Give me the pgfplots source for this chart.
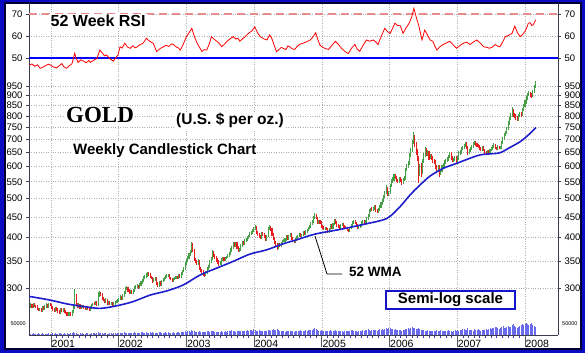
\documentclass[border=0pt]{standalone}
\usepackage{pgfplots}
\pgfplotsset{compat=1.18}
\usepackage{pgfplotstable}
\usepackage{fontspec}
\setmainfont{Liberation Sans}
\newfontfamily\goldfont{Liberation Serif}
\definecolor{framecol}{RGB}{10,10,195}
\definecolor{cgreen}{RGB}{70,160,70}
\definecolor{cred}{RGB}{230,30,30}
\definecolor{wmacol}{RGB}{30,30,205}
\definecolor{volblue}{RGB}{105,105,235}
\definecolor{gridg}{RGB}{175,175,175}
\definecolor{axiscol}{RGB}{60,60,80}
\definecolor{tickblue}{RGB}{60,60,170}
\definecolor{rsipink}{RGB}{230,140,140}
\definecolor{boxblue}{RGB}{20,20,200}
\definecolor{fiftyblue}{RGB}{0,0,255}

\pgfplotstableread[row sep=\\]{
lo hi d v\\
267 275 1 6\\ 268 274 0 5\\ 268 275 1 7\\ 269 275 0 4\\ 268 273 0 6\\ 264 272 0 5\\ 263 268 0 8\\ 263 268 1 6\\
262 268 0 5\\ 262 270 1 7\\ 264 270 0 6\\ 264 272 1 4\\ 268 275 1 5\\ 268 274 0 6\\ 268 275 1 7\\ 270 275 0 5\\
266 274 0 6\\ 263 270 0 7\\ 262 267 0 5\\ 262 269 1 8\\ 263 269 0 6\\ 260 267 0 5\\ 258 264 0 7\\ 258 268 1 9\\
261 268 0 6\\ 261 268 1 5\\ 260 268 0 8\\ 258 264 0 6\\ 255 262 0 7\\ 255 261 1 5\\ 256 262 1 6\\ 255 261 0 8\\
255 264 1 7\\ 260 272 1 12\\ 266 298 1 10\\ 270 290 0 7\\ 267 275 0 6\\ 268 275 1 5\\ 266 274 0 8\\ 266 272 1 6\\
268 273 1 7\\ 266 273 0 5\\ 265 270 0 6\\ 265 270 1 7\\ 264 270 0 8\\ 263 268 0 6\\ 263 270 1 5\\ 266 274 1 7\\
270 276 1 9\\ 272 277 0 8\\ 272 278 1 6\\ 270 278 0 7\\ 270 293 1 14\\ 285 295 1 11\\ 286 294 0 8\\ 280 292 0 7\\
278 285 0 6\\ 275 282 0 8\\ 276 283 1 7\\ 273 282 0 5\\ 273 279 1 6\\ 272 279 0 7\\ 272 277 1 8\\ 271 277 0 6\\
271 277 1 9\\ 273 279 1 7\\ 275 280 1 6\\ 276 281 1 8\\
277 284 1 8\\ 280 288 1 9\\ 280 287 0 7\\ 280 290 1 10\\ 285 295 1 12\\ 290 302 1 9\\ 296 304 1 8\\ 294 302 0 11\\
290 298 0 9\\ 290 297 1 8\\ 290 296 0 10\\ 290 298 1 9\\ 293 303 1 12\\ 298 305 1 8\\ 300 307 1 9\\ 299 306 0 11\\
300 309 1 10\\ 304 313 1 12\\ 307 315 1 13\\ 310 321 1 11\\ 315 323 1 10\\ 317 326 1 12\\ 319 329 1 9\\ 321 328 0 11\\
317 326 0 14\\ 315 322 0 10\\ 309 320 0 12\\ 310 318 1 9\\ 313 320 1 11\\ 305 320 0 10\\ 301 310 0 9\\ 302 312 1 13\\
303 312 0 12\\ 304 314 1 10\\ 310 317 1 11\\ 312 320 1 9\\ 316 323 1 12\\ 318 325 1 10\\ 319 325 1 14\\ 316 324 0 11\\
314 320 0 10\\ 310 318 0 9\\ 310 318 1 12\\ 314 320 1 11\\ 316 322 1 10\\ 316 322 0 13\\ 316 324 1 12\\ 318 324 0 11\\
318 328 1 14\\ 323 333 1 15\\ 328 338 1 13\\ 333 348 1 16\\
342 354 1 14\\ 348 360 1 16\\ 353 366 1 18\\ 360 372 1 15\\ 366 389 1 22\\ 368 388 0 20\\ 349 375 0 16\\ 345 356 0 14\\
342 352 0 13\\ 342 354 1 15\\ 332 352 0 17\\ 328 338 0 14\\ 326 335 0 12\\ 322 333 0 13\\ 320 329 0 15\\ 321 331 1 14\\
325 339 1 16\\ 333 343 1 18\\ 337 351 1 15\\ 345 357 1 17\\ 351 372 1 20\\ 358 370 0 16\\ 354 365 0 14\\ 348 361 0 13\\
344 355 0 15\\ 341 351 0 12\\ 342 349 1 14\\ 343 355 1 16\\ 349 359 1 15\\ 349 359 0 13\\ 349 359 1 17\\ 353 361 1 15\\
355 365 1 18\\ 359 369 1 16\\ 363 376 1 20\\ 369 382 1 22\\ 375 390 1 18\\ 379 390 0 16\\ 379 390 1 15\\ 375 389 0 19\\
368 381 0 17\\ 369 377 1 16\\ 371 385 1 18\\ 379 392 1 20\\ 383 392 0 17\\ 383 397 1 19\\ 391 400 1 18\\ 393 403 1 21\\
397 407 1 19\\ 401 413 1 22\\ 407 416 1 24\\ 409 419 1 20\\
413 424 1 28\\ 417 430 1 24\\ 408 428 0 20\\ 404 415 0 18\\ 400 411 0 22\\ 396 407 0 19\\ 397 413 1 17\\ 404 413 0 20\\
400 411 0 18\\ 392 407 0 16\\ 393 407 1 19\\ 401 424 1 22\\ 417 430 1 25\\ 416 428 0 20\\ 404 423 0 23\\ 394 411 0 26\\
386 401 0 24\\ 380 393 0 21\\ 372 387 0 28\\ 375 387 1 24\\ 378 387 0 19\\ 379 391 1 17\\ 385 395 1 18\\ 389 397 1 16\\
391 399 1 15\\ 393 405 1 17\\ 395 405 0 19\\ 395 407 1 16\\ 401 411 1 18\\ 395 411 0 20\\ 389 401 0 17\\ 387 395 0 15\\
387 399 1 16\\ 393 403 1 18\\ 397 407 1 17\\ 401 411 1 19\\ 401 411 0 21\\ 401 409 1 18\\ 403 415 1 16\\ 405 415 0 20\\
405 417 1 22\\ 411 421 1 19\\ 415 425 1 21\\ 419 429 1 23\\ 423 436 1 25\\ 429 442 1 24\\ 435 452 1 27\\ 445 459 1 30\\
444 458 0 26\\ 432 451 0 22\\ 433 443 1 20\\ 433 443 0 18\\
422 439 0 22\\ 421 429 0 20\\ 417 427 0 18\\ 417 425 1 17\\ 417 425 0 19\\ 411 423 0 16\\ 411 423 1 18\\ 417 431 1 21\\
421 431 0 19\\ 421 435 1 17\\ 429 444 1 20\\ 433 444 0 22\\ 425 439 0 18\\ 423 431 0 16\\ 421 429 0 17\\ 421 433 1 19\\
427 435 1 18\\ 423 435 0 15\\ 421 429 0 17\\ 419 427 0 20\\ 415 425 0 18\\ 413 421 0 16\\ 413 425 1 19\\ 419 431 1 21\\
425 439 1 24\\ 433 442 1 20\\ 431 442 0 18\\ 425 437 0 17\\ 421 431 0 15\\ 421 429 1 16\\ 423 431 1 18\\ 425 439 1 20\\
433 443 1 22\\ 433 443 0 19\\ 433 441 1 21\\ 435 449 1 24\\ 443 458 1 26\\ 451 470 1 22\\ 462 474 1 20\\ 466 475 0 21\\
466 476 1 23\\ 468 482 1 25\\ 464 481 0 22\\ 460 471 0 20\\ 460 474 1 24\\ 466 482 1 26\\ 474 490 1 23\\ 482 498 1 28\\
490 510 1 25\\ 502 521 1 27\\ 512 540 1 30\\ 506 534 0 26\\
508 523 1 30\\ 514 543 1 34\\ 534 558 1 28\\ 547 564 1 26\\ 553 576 1 24\\ 558 574 0 27\\ 550 568 0 22\\ 546 560 0 25\\
547 565 1 23\\ 550 565 0 21\\ 541 560 0 20\\ 543 563 1 24\\ 553 568 1 22\\ 557 596 1 26\\ 584 607 1 28\\ 594 620 1 30\\
606 648 1 27\\ 632 668 1 32\\ 652 700 1 35\\ 682 730 1 33\\ 670 718 0 30\\ 642 690 0 28\\ 618 662 0 26\\ 545 638 0 32\\
570 610 1 27\\ 565 612 0 24\\ 575 628 1 22\\ 612 648 1 25\\ 632 670 1 20\\ 638 666 0 19\\ 636 658 1 21\\ 624 656 0 18\\
626 646 1 17\\ 622 646 0 19\\ 612 636 0 16\\ 608 626 0 18\\ 592 622 0 20\\ 585 606 0 22\\ 588 604 1 17\\ 565 604 0 19\\
572 592 1 21\\ 580 604 1 16\\ 592 612 1 18\\ 600 622 1 20\\ 610 626 1 17\\ 614 632 1 19\\ 620 642 1 22\\ 630 652 1 18\\
624 650 0 17\\ 614 636 0 15\\ 616 630 1 19\\ 619 638 1 21\\
608 638 0 20\\ 614 636 1 22\\ 624 654 1 19\\ 642 658 1 24\\ 646 670 1 21\\ 658 674 1 26\\ 662 684 1 28\\ 672 692 1 23\\
662 690 0 25\\ 640 674 0 30\\ 644 662 1 24\\ 650 670 1 21\\ 658 678 1 23\\ 666 690 1 20\\ 678 696 1 26\\ 674 694 0 24\\
672 686 0 22\\ 668 684 0 27\\ 658 678 0 21\\ 656 670 0 19\\ 656 675 1 25\\ 654 674 0 23\\ 646 664 0 22\\ 642 656 0 26\\
642 660 1 24\\ 644 660 0 28\\ 644 664 1 30\\ 654 669 1 26\\ 658 677 1 32\\ 666 685 1 34\\ 662 684 0 38\\ 658 672 0 35\\
659 677 1 30\\ 662 676 0 28\\ 662 675 1 33\\ 664 695 1 36\\ 684 712 1 40\\ 700 726 1 34\\ 714 736 1 31\\ 724 752 1 37\\
738 778 1 42\\ 762 798 1 38\\ 782 815 1 36\\ 798 845 1 44\\ 795 832 0 48\\ 790 815 0 40\\ 784 808 0 35\\ 778 800 0 33\\
780 808 1 38\\ 794 820 1 42\\ 798 818 0 46\\ 800 838 1 50\\ 822 858 1 45\\ 842 875 1 52\\ 858 895 1 56\\ 878 915 1 48\\
896 922 1 44\\ 892 920 0 50\\ 886 912 0 54\\ 890 930 1 46\\ 914 955 1 42\\ 938 975 1 38\\
}\gold

% build the weekly high-low segments of up (green) and down (red) weeks from the table
\gdef\gcoords{}
\gdef\rcoords{}
\pgfplotstablegetrowsof{\gold}
\pgfmathtruncatemacro\lastrow{\pgfplotsretval-1}
\pgfplotsforeachungrouped \k in {0,...,\lastrow}{%
  \pgfplotstablegetelem{\k}{lo}\of{\gold}\let\clow\pgfplotsretval
  \pgfplotstablegetelem{\k}{hi}\of{\gold}\let\chigh\pgfplotsretval
  \pgfplotstablegetelem{\k}{d}\of{\gold}\let\cdir\pgfplotsretval
  \pgfmathsetmacro\cx{\k/52.18+2000.70}%
  \ifnum\cdir=1
    \xdef\gcoords{\gcoords(\cx,\clow)(\cx,\chigh)(\cx,nan)}%
  \else
    \xdef\rcoords{\rcoords(\cx,\clow)(\cx,\chigh)(\cx,nan)}%
  \fi
}

\pgfplotsset{
 panel/.style={scale only axis, width=529pt, xmin=2000.675, xmax=2008.489, anchor=south west,
   separate axis lines,
   axis line style={draw=axiscol, line width=0.8pt},
   tick style={draw=axiscol, line width=0.6pt},
   major tick length=3pt, tick align=outside,
   yticklabel style={font=\fontsize{9.5}{9.5}\selectfont, text=black},
   /pgf/number format/assume math mode=true,
   xtick={2001,2002,2003,2004,2005,2006,2007,2008}, xticklabels={},
   x axis line style={draw=none}, xtick style={draw=none},
   grid style={gridg, dotted, line width=0.6pt},
 },
}

\begin{document}
\begin{tikzpicture}
\fill[framecol] (0pt,0pt) rectangle (585pt,353pt);
\fill[white] (5pt,4pt) rectangle (581pt,350pt);
\draw[black!80!blue, line width=1.2pt] (5pt,4pt) rectangle (581pt,350pt);

% RSI panel, left
\begin{axis}[panel, at={(29pt,274pt)}, height=76pt, ymin=40.45, ymax=75,
  axis y line*=left, ytick={50,60,70}, yticklabels={50,60,70},
  xmajorgrids, ymajorgrids]
\addplot[rsipink, line width=1.1pt, dash pattern=on 8pt off 5pt] coordinates {(2000.675,70) (2008.489,70)};
\addplot[draw=fiftyblue, line width=1.2pt] coordinates {(2000.675,50) (2008.489,50)};
\addplot[red, line width=0.8pt] coordinates {
(2000.68,46.8)(2000.72,47.3)(2000.76,46.2)(2000.80,46.9)(2000.84,45.3)(2000.88,45.8)(2000.92,46.5)(2000.96,47.2)(2000.99,46.8)(2001.03,46.0)(2001.08,45.5)(2001.12,46.4)(2001.16,47.5)(2001.19,46.0)(2001.23,45.3)(2001.27,46.5)(2001.31,47.4)(2001.35,52.1)(2001.37,50.0)(2001.40,48.0)(2001.44,49.2)(2001.48,48.6)(2001.52,47.8)(2001.56,48.9)(2001.58,48.0)(2001.62,48.8)(2001.66,49.5)(2001.68,49.8)(2001.72,53.6)(2001.75,52.5)(2001.79,51.0)(2001.82,51.4)(2001.86,50.0)(2001.89,49.2)(2001.92,48.6)(2001.96,50.2)(2001.99,51.4)(2002.02,55.1)(2002.05,54.5)(2002.09,56.7)(2002.13,55.0)(2002.17,54.4)(2002.21,55.6)(2002.24,54.6)(2002.27,55.0)(2002.31,56.0)(2002.36,56.7)(2002.41,59.0)(2002.44,58.0)(2002.48,57.2)(2002.51,56.7)(2002.56,52.9)(2002.60,54.0)(2002.63,54.6)(2002.66,55.1)(2002.70,55.8)(2002.74,55.2)(2002.78,56.4)(2002.81,56.1)(2002.85,55.0)(2002.88,54.6)(2002.91,53.6)(2002.95,56.0)(2003.00,59.7)(2003.04,61.5)(2003.08,63.5)(2003.11,60.5)(2003.15,57.3)(2003.19,55.0)(2003.23,52.9)(2003.26,53.8)(2003.30,53.6)(2003.34,56.5)(2003.37,59.7)(2003.41,58.5)(2003.45,57.6)(2003.49,56.5)(2003.52,55.1)(2003.56,56.2)(2003.60,57.6)(2003.64,58.6)(2003.69,59.7)(2003.73,58.6)(2003.76,59.0)(2003.79,57.6)(2003.83,58.8)(2003.86,59.4)(2003.89,60.5)(2003.93,61.5)(2003.97,62.4)(2004.01,64.2)(2004.05,61.5)(2004.09,59.7)(2004.12,59.2)(2004.15,58.6)(2004.19,58.2)(2004.23,60.5)(2004.26,59.0)(2004.30,55.5)(2004.33,52.9)(2004.36,53.6)(2004.40,54.8)(2004.43,54.4)(2004.47,53.8)(2004.50,55.5)(2004.53,55.0)(2004.56,54.2)(2004.60,53.9)(2004.63,55.0)(2004.67,56.2)(2004.73,56.8)(2004.78,57.4)(2004.83,58.2)(2004.87,59.6)(2004.91,61.5)(2004.94,58.5)(2004.97,56.0)(2005.00,55.1)(2005.05,54.3)(2005.10,53.9)(2005.15,55.8)(2005.20,57.6)(2005.25,56.0)(2005.29,54.4)(2005.34,53.0)(2005.39,52.0)(2005.44,54.5)(2005.49,56.1)(2005.52,54.2)(2005.56,53.0)(2005.61,55.8)(2005.66,58.2)(2005.71,57.6)(2005.76,58.2)(2005.80,57.2)(2005.83,56.1)(2005.88,60.0)(2005.93,63.5)(2005.97,62.0)(2006.01,61.2)(2006.05,63.8)(2006.08,65.8)(2006.12,64.8)(2006.16,64.6)(2006.20,61.2)(2006.24,63.5)(2006.29,65.8)(2006.33,68.8)(2006.36,72.6)(2006.40,68.0)(2006.43,65.0)(2006.46,61.0)(2006.48,58.2)(2006.52,62.7)(2006.56,60.5)(2006.60,58.2)(2006.64,57.6)(2006.67,55.4)(2006.70,53.6)(2006.74,55.0)(2006.79,56.1)(2006.84,56.8)(2006.89,57.6)(2006.94,56.0)(2006.99,54.4)(2007.04,55.6)(2007.09,56.7)(2007.14,57.2)(2007.19,56.1)(2007.24,57.3)(2007.29,58.2)(2007.34,56.8)(2007.39,55.1)(2007.44,54.8)(2007.48,54.4)(2007.52,55.0)(2007.56,56.1)(2007.60,55.4)(2007.63,55.1)(2007.67,57.2)(2007.71,59.7)(2007.76,60.3)(2007.81,61.2)(2007.85,64.5)(2007.89,61.5)(2007.93,59.7)(2007.96,60.5)(2008.00,62.0)(2008.03,64.0)(2008.05,65.8)(2008.08,66.0)(2008.10,64.8)(2008.12,65.0)(2008.16,67.3)};
\end{axis}

% RSI panel, right labels
\begin{axis}[panel, at={(29pt,274pt)}, height=76pt, ymin=40.45, ymax=75,
  axis y line*=right, ytick={50,60,70}, yticklabels={50,60,70}]
\addplot[draw=none] coordinates {(2001,50)};
\end{axis}

% Price panel, left
\begin{axis}[panel, at={(29pt,18pt)}, height=256pt, ymode=log, ymin=229.4, ymax=988.7,
  axis y line*=left, yminorticks=false,
  ytick={300,350,400,450,500,550,600,650,700,750,800,850,900,950},
  yticklabels={300,350,400,450,500,550,600,650,700,750,800,850,900,950},
  xmajorgrids, ymajorgrids]
\edef\drawcandles{%
  \noexpand\addplot[cgreen, line width=1.05pt, unbounded coords=jump, forget plot] coordinates {\gcoords};
  \noexpand\addplot[cred, line width=1.05pt, unbounded coords=jump, forget plot] coordinates {\rcoords};
}
\drawcandles
\addplot[wmacol, line width=1.6pt, smooth] coordinates {
(2000.675,286)(2000.985,280)(2001.232,274)(2001.473,270)(2001.724,267)(2001.970,271)(2002.211,277.5)(2002.462,288)(2002.709,295)(2002.950,305)(2003.201,323)(2003.448,336)(2003.688,349)(2003.939,364)(2004.186,373)(2004.427,386)(2004.629,395)(2004.900,408)(2005.269,419)(2005.638,432)(2005.959,446)(2006.155,477)(2006.303,510)(2006.451,540)(2006.598,568)(2006.795,594)(2006.993,611)(2007.189,629)(2007.337,641)(2007.485,645)(2007.633,649)(2007.780,669)(2007.928,691)(2008.050,718)(2008.164,750)};
\end{axis}

% Price panel, right labels
\begin{axis}[panel, at={(29pt,18pt)}, height=256pt, ymode=log, ymin=229.4, ymax=988.7,
  axis y line*=right, yminorticks=false,
  ytick={300,350,400,450,500,550,600,650,700,750,800,850,900,950},
  yticklabels={300,350,400,450,500,550,600,650,700,750,800,850,900,950}]
\addplot[draw=none] coordinates {(2001,300)};
\end{axis}

% Volume and year axis
\begin{axis}[scale only axis, width=529pt, height=20pt, at={(29pt,18pt)}, anchor=south west,
  xmin=2000.675, xmax=2008.489, ymin=0, ymax=91,
  axis y line=none, axis x line*=bottom,
  axis line style={draw=axiscol, line width=0.8pt},
  xtick={2001,2002,2003,2004,2005,2006,2007,2008},
  xticklabels={2001,2002,2003,2004,2005,2006,2007,2008},
  minor x tick num=11, tick align=outside,
  major tick length=12pt, minor tick length=3pt,
  major tick style={draw=black!65, line width=0.7pt},
  minor tick style={draw=tickblue, line width=0.6pt},
  xticklabel style={anchor=north west, font=\fontsize{10.5}{10.5}\selectfont, inner sep=0.5pt, yshift=8pt}]
\addplot[ycomb, volblue, line width=0.9pt, mark=none] table[x expr=\coordindex/52.18+2000.70, y=v] {\gold};
\end{axis}

% annotations
\node[anchor=base west, fill=white, inner xsep=2pt, inner ysep=1pt] at (48.5pt,326.3pt) {\fontsize{16}{16}\selectfont\bfseries 52 Week RSI};
\node[anchor=base west, fill=white, inner sep=1pt] at (65pt,230.7pt) {\fontsize{23}{23}\selectfont\goldfont\bfseries GOLD};
\node[anchor=base west, fill=white, inner sep=1pt] at (175pt,228pt) {\fontsize{15.5}{15.5}\selectfont\bfseries (U.S. \$ per oz.)};
\node[anchor=base west, fill=white, inner sep=1pt] at (72pt,198pt) {\fontsize{15}{15}\selectfont\bfseries Weekly Candlestick Chart};
\draw[black, line width=0.8pt] (315pt,117pt) -- (327pt,79pt) -- (342pt,79pt);
\node[anchor=base west, inner sep=0pt] at (349pt,76.5pt) {\fontsize{13.5}{13.5}\selectfont\bfseries 52 WMA};
\node[draw=boxblue, line width=1.5pt, fill=white, minimum width=129pt, minimum height=18pt, inner sep=0pt] at (450.5pt,53pt) {\fontsize{15}{15}\selectfont\bfseries Semi-log scale};
\node[anchor=east, inner sep=0pt] at (26pt,29pt) {\fontsize{5.5}{5.5}\selectfont 50000};
\node[anchor=west, inner sep=0pt] at (562pt,29pt) {\fontsize{5.5}{5.5}\selectfont 50000};
\end{tikzpicture}
\end{document}
